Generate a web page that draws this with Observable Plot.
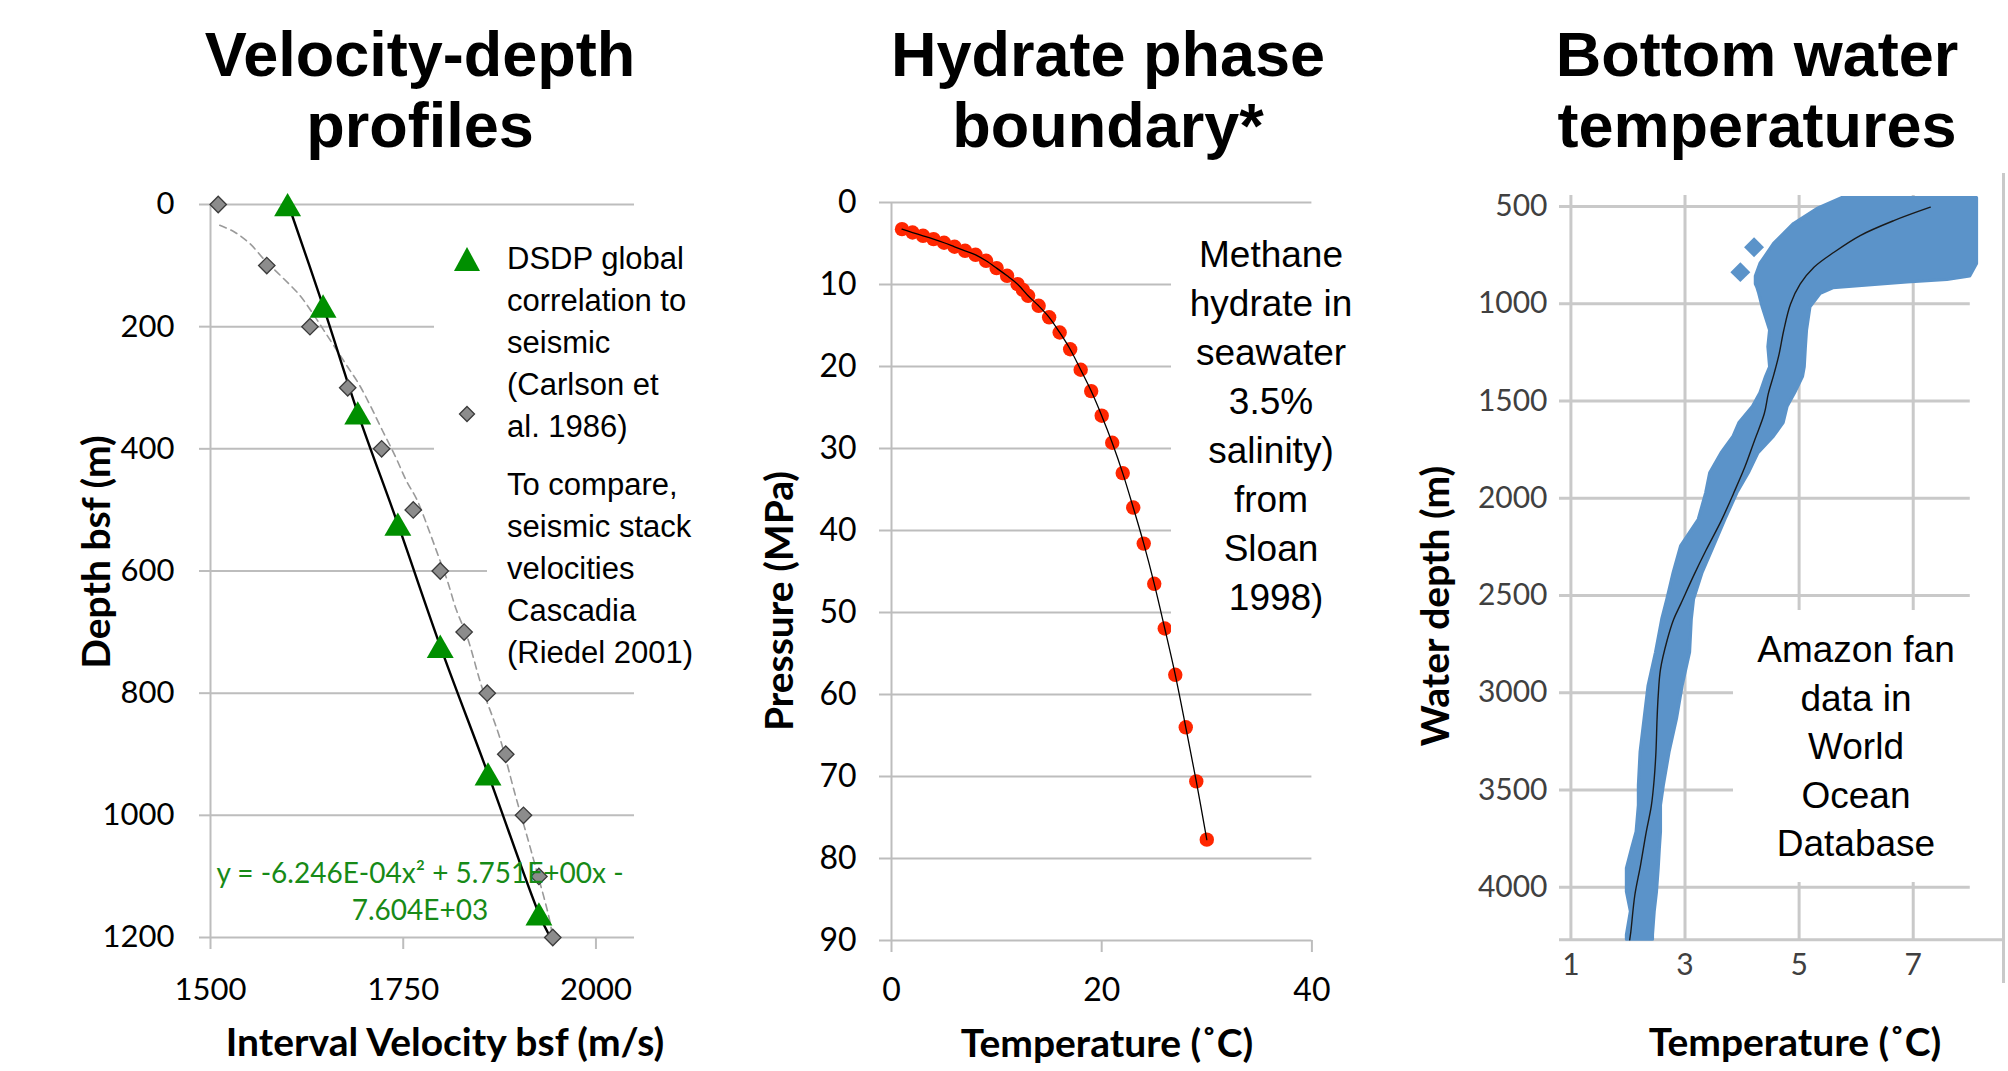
<!DOCTYPE html>
<html>
<head>
<meta charset="utf-8">
<script src="https://cdn.jsdelivr.net/npm/d3@7"></script>
<script src="https://cdn.jsdelivr.net/npm/@observablehq/plot@0.6"></script>
<style>
html,body{margin:0;padding:0;background:#fff;}
#root{position:relative;width:2008px;height:1071px;overflow:hidden;background:#fff;}
.title{position:absolute;width:600px;text-align:center;font-family:"Liberation Sans",Arial,sans-serif;font-weight:bold;font-size:63px;line-height:71px;color:#000;top:19px;}
.ctr{position:absolute;white-space:nowrap;transform:translate(-50%,-50%);}
.axt{font-family:Lato,sans-serif;font-weight:bold;font-size:39px;line-height:1;color:#000;}
.rot{transform:translate(-50%,-50%) rotate(-90deg);}
.note{position:absolute;font-family:"Liberation Sans",Arial,sans-serif;color:#000;white-space:nowrap;}
.mask{position:absolute;background:#fff;}
</style>
</head>
<body>
<div id="root"></div>
<script>
// ---------------- Panel 1: Velocity-depth profiles ----------------
const depthTicks = [0, 200, 400, 600, 800, 1000, 1200];
const velTicks = [1500, 1750, 2000];
const dsdpVel = [1600, 1646, 1691, 1743, 1798, 1860, 1926];
const dsdpDepth = [0, 166, 341, 523, 723, 932, 1161];
const fitVel = [1601, 1646, 1691, 1743, 1798, 1860, 1926, 1940];
const fitDepth = [0, 166, 341, 523, 723, 932, 1161, 1198];
const riedelVel = [1510, 1573, 1629, 1678, 1722, 1763, 1798, 1829, 1859, 1883, 1906, 1926, 1944];
const riedelDepth = [0, 100, 200, 300, 400, 500, 600, 700, 800, 900, 1000, 1100, 1200];
const riedelTrendVel = [1512, 1531, 1551, 1571, 1593, 1616, 1633, 1647, 1664, 1678, 1692, 1706, 1723, 1740, 1754, 1768, 1785, 1796, 1807, 1819, 1833, 1852, 1875, 1895, 1917, 1940, 1944];
const riedelTrendDepth = [34, 45, 64, 92, 119, 149, 179, 206, 239, 266, 293, 326, 370, 413, 452, 484, 539, 577, 615, 664, 708, 790, 872, 965, 1063, 1172, 1202];
const legend1a = ["DSDP global", "correlation to", "seismic", "(Carlson et", "al. 1986)"];
const legend1b = ["To compare,", "seismic stack", "velocities", "Cascadia", "(Riedel 2001)"];
const equationLines = ["y = -6.246E-04x² + 5.751E+00x -", "7.604E+03"];

// ---------------- Panel 2: Hydrate phase boundary ----------------
const pressTicks = [0, 10, 20, 30, 40, 50, 60, 70, 80, 90];
const tempTicks = [0, 20, 40];
const phaseTemp = [1, 2, 3, 4, 5, 6, 7, 8, 9, 10, 11, 12, 12.5, 13, 14, 15, 16, 17, 18, 19, 20, 21, 22, 23, 24, 25, 26, 27, 28, 29, 30];
const phasePress = [3.25, 3.66, 4.06, 4.47, 4.91, 5.4, 5.89, 6.38, 7.11, 8.0, 8.94, 9.96, 10.65, 11.38, 12.6, 14.0, 15.85, 17.9, 20.4, 23.0, 26.0, 29.3, 33.0, 37.2, 41.6, 46.5, 51.95, 57.6, 64.0, 70.6, 77.7];
const note2 = ["Methane", "hydrate in", "seawater", "3.5%", "salinity)", "from", "Sloan", "\u00a01998)"];

// ---------------- Panel 3: Bottom water temperatures ----------------
const wdTicks = [500, 1000, 1500, 2000, 2500, 3000, 3500, 4000];
const bwTicks = [1, 3, 5, 7];
const bandDepth = [456, 512, 589, 692, 795, 860, 878, 890, 900, 920, 949, 1018, 1137, 1223, 1326, 1375, 1460, 1529, 1614, 1683, 1768, 1871, 1973, 2110, 2247, 2383, 2520, 2623, 2794, 2965, 3136, 3307, 3478, 3580, 3716, 3802, 3904, 4024, 4126, 4246, 4270];
const bandLow = [5.75, 5.32, 4.91, 4.56, 4.32, 4.24, 4.24, 4.24, 4.24, 4.27, 4.30, 4.36, 4.49, 4.46, 4.49, 4.42, 4.32, 4.19, 3.95, 3.85, 3.64, 3.44, 3.37, 3.24, 2.93, 2.80, 2.69, 2.60, 2.49, 2.36, 2.29, 2.22, 2.19, 2.19, 2.15, 2.07, 1.98, 1.98, 2.05, 1.98, 1.98];
const bandHigh = [8.12, 8.12, 8.12, 8.12, 8.12, 8.0, 7.6, 6.9, 6.5, 5.6, 5.38, 5.2, 5.14, 5.12, 5.10, 5.07, 4.93, 4.80, 4.73, 4.56, 4.29, 4.12, 3.92, 3.71, 3.51, 3.31, 3.16, 3.12, 3.09, 2.96, 2.86, 2.73, 2.63, 2.58, 2.58, 2.56, 2.54, 2.51, 2.47, 2.44, 2.44];
const outlierTemp = [4.21, 3.97];
const outlierDepth = [709, 837];
const meanDepth = [503, 572, 649, 735, 812, 898, 1001, 1137, 1257, 1360, 1462, 1564, 1701, 1838, 1975, 2112, 2266, 2386, 2540, 2623, 2726, 2879, 3016, 3136, 3307, 3443, 3580, 3716, 3887, 4041, 4229, 4270];
const meanTemp = [7.3, 6.66, 6.07, 5.61, 5.26, 5.02, 4.85, 4.73, 4.65, 4.56, 4.46, 4.39, 4.22, 4.05, 3.85, 3.64, 3.37, 3.17, 2.93, 2.80, 2.69, 2.57, 2.53, 2.51, 2.49, 2.46, 2.41, 2.32, 2.22, 2.12, 2.05, 2.03];
const note3 = ["Amazon fan", "data in", "World", "Ocean", "Database"];

const titles = [["Velocity-depth", "profiles"], ["Hydrate phase", "boundary*"], ["Bottom water", "temperatures"]];
const xTitles = ["Interval Velocity bsf (m/s)", "Temperature (˚C)", "Temperature (˚C)"];
const yTitles = ["Depth bsf (m)", "Pressure (MPa)", "Water depth (m)"];

// ---------------- build ----------------
const GRID = "#bdbdbd";
const GRID3 = "#c9c9c9";
const root = document.getElementById("root");
const zip = (a, b, ka, kb) => a.map((v, i) => ({[ka]: v, [kb]: b[i]}));

function place(svg, left) {
  svg.style.position = "absolute";
  svg.style.left = left + "px";
  svg.style.top = "0px";
  root.appendChild(svg);
}

// Panel 1
const p1 = Plot.plot({
  width: 690, height: 1071,
  marginLeft: 210, marginRight: 56, marginTop: 204, marginBottom: 134,
  style: {background: "transparent", overflow: "visible", fontFamily: "Lato"},
  x: {domain: [1500, 2050], label: null},
  y: {domain: [0, 1200], reverse: true, label: null},
  marks: [
    Plot.ruleY(depthTicks, {stroke: GRID, strokeWidth: 2}),
    Plot.ruleX([1500], {stroke: GRID, strokeWidth: 2}),
    Plot.axisY({ticks: depthTicks, tickFormat: "d", tickSize: 11, tickPadding: 25, stroke: GRID, strokeWidth: 2, fill: "#000", fontSize: 31, fontFamily: "Lato", label: null}),
    Plot.axisX({ticks: velTicks, tickFormat: "d", tickSize: 12, tickPadding: 28, stroke: GRID, strokeWidth: 2, fill: "#000", fontSize: 31, fontFamily: "Lato", label: null}),
    Plot.line(zip(riedelTrendVel, riedelTrendDepth, "v", "d"), {x: "v", y: "d", stroke: "#9a9a9a", strokeWidth: 1.6, strokeDasharray: "7,5", curve: "catmull-rom"}),
    Plot.line(zip(fitVel, fitDepth, "v", "d"), {x: "v", y: "d", stroke: "#000", strokeWidth: 2.4, curve: "catmull-rom"}),
    Plot.dot(zip(riedelVel, riedelDepth, "v", "d"), {x: "v", y: "d", symbol: "diamond2", r: 7.4, fill: "#8c8c8c", stroke: "#3a3a3a", strokeWidth: 1.3}),
    Plot.dot(zip(dsdpVel, dsdpDepth, "v", "d"), {x: "v", y: "d", symbol: "triangle", r: 10, dy: 4, fill: "#008f00", stroke: "none"})
  ]
});
place(p1, 0);

// Panel 2
const p2 = Plot.plot({
  width: 680, height: 1071,
  marginLeft: 201, marginRight: 58.6, marginTop: 202, marginBottom: 131,
  style: {background: "transparent", overflow: "visible", fontFamily: "Lato"},
  x: {domain: [0, 40], label: null},
  y: {domain: [0, 90], reverse: true, label: null},
  marks: [
    Plot.ruleY(pressTicks, {stroke: GRID, strokeWidth: 2}),
    Plot.ruleX([0], {stroke: GRID, strokeWidth: 2}),
    Plot.axisY({ticks: pressTicks, tickFormat: "d", tickSize: 12, tickPadding: 23, stroke: GRID, strokeWidth: 2, fill: "#000", fontSize: 32, fontFamily: "Lato", label: null}),
    Plot.axisX({ticks: tempTicks, tickFormat: "d", tickSize: 12, tickPadding: 26, stroke: GRID, strokeWidth: 2, fill: "#000", fontSize: 32, fontFamily: "Lato", label: null}),
    Plot.dot(zip(phaseTemp, phasePress, "t", "p"), {x: "t", y: "p", r: 7.2, fill: "#ff2600", stroke: "none"}),
    Plot.line(zip(phaseTemp, phasePress, "t", "p"), {x: "t", y: "p", stroke: "#000", strokeWidth: 1.3, curve: "catmull-rom"})
  ]
});
place(p2, 690);

// Panel 3
const p3 = Plot.plot({
  width: 638, height: 1071,
  marginLeft: 189, marginRight: 4, marginTop: 195, marginBottom: 131.7,
  style: {background: "transparent", overflow: "visible", fontFamily: "Lato"},
  x: {domain: [0.8, 8.6], label: null},
  y: {domain: [443, 4270], reverse: true, label: null},
  marks: [
    Plot.ruleY(wdTicks, {x1: 0.8, x2: 8.0, stroke: GRID3, strokeWidth: 3}),
    Plot.ruleX(bwTicks, {stroke: GRID3, strokeWidth: 3}),
    Plot.ruleY([4270], {stroke: GRID3, strokeWidth: 3}),
    Plot.axisY({ticks: wdTicks, tickFormat: "d", tickSize: 0, tickPadding: 12, fill: "#404040", fontSize: 30, fontFamily: "Lato", label: null}),
    Plot.axisX({ticks: bwTicks, tickFormat: "d", tickSize: 0, tickPadding: 14, fill: "#404040", fontSize: 30, fontFamily: "Lato", label: null}),
    Plot.areaX(bandDepth.map((d, i) => ({d, lo: bandLow[i], hi: bandHigh[i]})), {y: "d", x1: "lo", x2: "hi", fill: "#5b93c9", stroke: "#5b93c9", strokeWidth: 3, strokeLinejoin: "round"}),
    Plot.dot(zip(outlierTemp, outlierDepth, "t", "d"), {x: "t", y: "d", symbol: "diamond2", r: 9, fill: "#5b93c9", stroke: "none"}),
    Plot.line(zip(meanTemp, meanDepth, "t", "d"), {x: "t", y: "d", stroke: "#1a1a1a", strokeWidth: 1.4, curve: "catmull-rom"})
  ]
});
place(p3, 1370);

// ---------------- overlays (HTML) ----------------
function div(cls, css, html) {
  const el = document.createElement("div");
  el.className = cls;
  Object.assign(el.style, css);
  if (html != null) el.innerHTML = html;
  root.appendChild(el);
  return el;
}
// white boxes behind the in-chart texts (they hide the gridlines like the original)
div("mask", {left: "434px", top: "225px", width: "260px", height: "230px"});
div("mask", {left: "487px", top: "455px", width: "210px", height: "225px"});
div("mask", {left: "1171px", top: "215px", width: "145px", height: "430px"});
div("mask", {left: "1733px", top: "610px", width: "267px", height: "272px"});
// chart-area border on the right of panel 3
div("mask", {left: "2002px", top: "173px", width: "3px", height: "810px", background: GRID3});

// titles
const titleCenters = [420, 1108, 1757];
titles.forEach((t, i) => div("title", {left: (titleCenters[i] - 300) + "px"}, t.join("<br>")));

// axis titles
const xTitlePos = [[445, 1041], [1107, 1042], [1795, 1041]];
xTitles.forEach((t, i) => div("ctr axt", {left: xTitlePos[i][0] + "px", top: xTitlePos[i][1] + "px"}, t));
const yTitlePos = [[95, 552], [778, 601], [1434, 606]];
yTitles.forEach((t, i) => div("ctr axt rot", {left: yTitlePos[i][0] + "px", top: yTitlePos[i][1] + "px"}, t));

// panel 1 legend
div("note", {left: "507px", top: "238px", fontSize: "31px", lineHeight: "42px"}, legend1a.join("<br>"));
div("note", {left: "507px", top: "464px", fontSize: "31px", lineHeight: "42px"}, legend1b.join("<br>"));
div("note", {left: "453px", top: "246px"}, '<svg width="28" height="26"><path d="M14,1 L27,25 L1,25 Z" fill="#008f00"/></svg>');
div("note", {left: "458px", top: "405px"}, '<svg width="18" height="18"><path d="M9,1.5 L16.5,9 L9,16.5 L1.5,9 Z" fill="#8c8c8c" stroke="#3a3a3a" stroke-width="1.3"/></svg>');
// equation
div("note", {left: "120px", width: "600px", textAlign: "center", top: "854px", fontFamily: "Lato", fontSize: "28px", lineHeight: "37px", color: "#178a17"}, equationLines.join("<br>"));

// panel 2 note
div("note", {left: "1121px", width: "300px", textAlign: "center", top: "230px", fontSize: "37px", lineHeight: "49px"}, note2.join("<br>"));
// panel 3 note
div("note", {left: "1706px", width: "300px", textAlign: "center", top: "626px", fontSize: "37px", lineHeight: "48.6px"}, note3.join("<br>"));
</script>
</body>
</html>
